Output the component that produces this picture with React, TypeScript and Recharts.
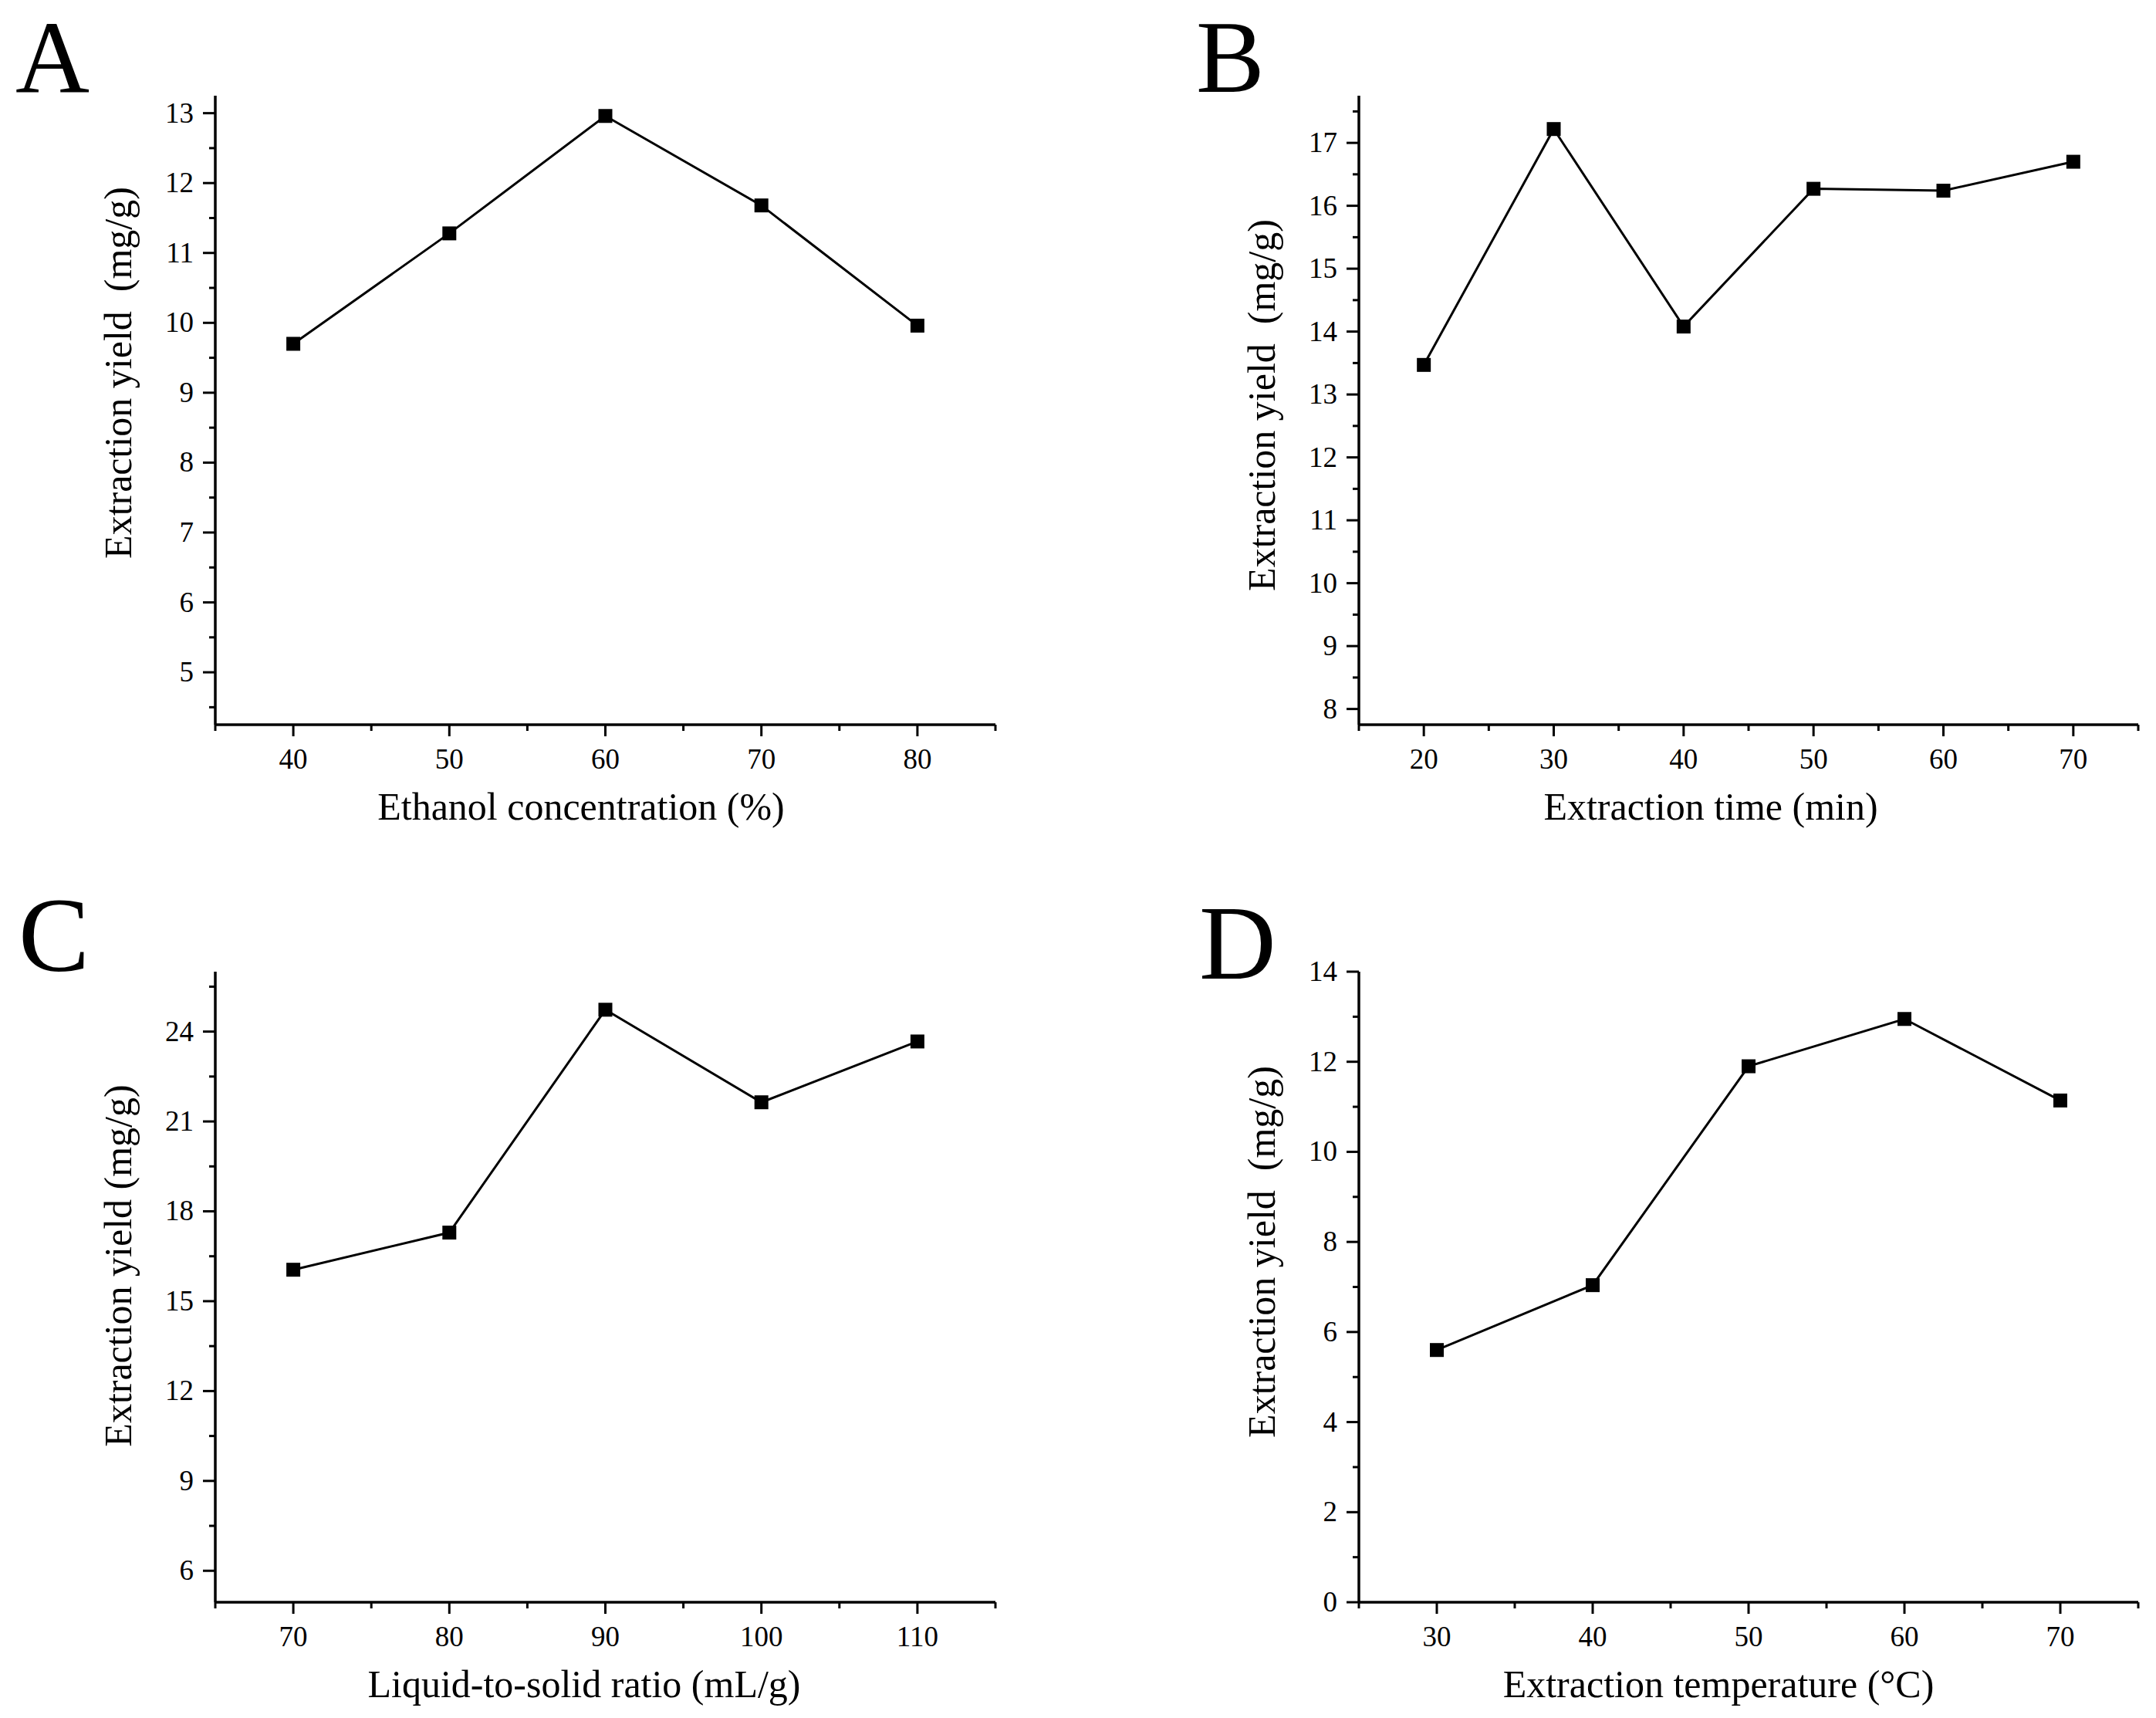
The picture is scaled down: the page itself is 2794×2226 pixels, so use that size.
import React from 'react';
import { LineChart, Line, XAxis, YAxis } from 'recharts';

// ---------- data ----------
const concA = [40, 50, 60, 70, 80];
const yieldA = [9.7, 11.28, 12.96, 11.68, 9.96];

const timeB = [20, 30, 40, 50, 60, 70];
const yieldB = [13.47, 17.22, 14.08, 16.27, 16.24, 16.7];

const ratioC = [70, 80, 90, 100, 110];
const yieldC = [16.05, 17.29, 24.73, 21.64, 23.67];

const tempD = [30, 40, 50, 60, 70];
const yieldD = [5.6, 7.04, 11.9, 12.95, 11.14];

// tick labels (major) and minor tick values
const xMajorA = [40, 50, 60, 70, 80];
const xMinorA = [35, 45, 55, 65, 75, 85];
const yMajorA = [5, 6, 7, 8, 9, 10, 11, 12, 13];
const yMinorA = [4.5, 5.5, 6.5, 7.5, 8.5, 9.5, 10.5, 11.5, 12.5];

const xMajorB = [20, 30, 40, 50, 60, 70];
const xMinorB = [15, 25, 35, 45, 55, 65, 75];
const yMajorB = [8, 9, 10, 11, 12, 13, 14, 15, 16, 17];
const yMinorB = [8.5, 9.5, 10.5, 11.5, 12.5, 13.5, 14.5, 15.5, 16.5, 17.5];

const xMajorC = [70, 80, 90, 100, 110];
const xMinorC = [65, 75, 85, 95, 105, 115];
const yMajorC = [6, 9, 12, 15, 18, 21, 24];
const yMinorC = [7.5, 10.5, 13.5, 16.5, 19.5, 22.5, 25.5];

const xMajorD = [30, 40, 50, 60, 70];
const xMinorD = [25, 35, 45, 55, 65, 75];
const yMajorD = [0, 2, 4, 6, 8, 10, 12, 14];
const yMinorD = [1, 3, 5, 7, 9, 11, 13];

const FONT = "'Liberation Serif', 'Times New Roman', serif";
const TICK_FS = 37;
const TITLE_FS = 50;
const AXIS_W = 3.5;

const zip = (xs: number[], ys: number[]) => xs.map((x, i) => ({ x, y: ys[i] }));

const SquareDot = (props: any) => {
  const { cx, cy, index } = props;
  if (cx == null || cy == null) return null;
  return <rect key={`d-${index}`} x={cx - 9} y={cy - 9} width={18} height={18} fill="#000" />;
};

const textStyle = { fontFamily: FONT };

const makeXTick = (majors: number[]) => (props: any) => {
  const { x, y, payload } = props;
  const v = payload.value;
  const major = majors.includes(v);
  return (
    <g>
      <line x1={x} x2={x} y1={y} y2={y + (major ? 15 : 8)} stroke="#000" strokeWidth={3} />
      {major && (
        <text x={x} y={y + 57} textAnchor="middle" fontFamily={FONT} style={textStyle} fontSize={TICK_FS} fill="#000">
          {v}
        </text>
      )}
    </g>
  );
};

const makeYTick = (majors: number[]) => (props: any) => {
  const { x, y, payload } = props;
  const v = payload.value;
  const major = majors.includes(v);
  return (
    <g>
      <line x1={x - (major ? 16 : 8)} x2={x} y1={y} y2={y} stroke="#000" strokeWidth={3} />
      {major && (
        <text x={x - 28} y={y + 12} textAnchor="end" fontFamily={FONT} style={textStyle} fontSize={TICK_FS} fill="#000">
          {v}
        </text>
      )}
    </g>
  );
};

type PanelProps = {
  left: number;
  top: number;
  data: { x: number; y: number }[];
  xDomain: [number, number];
  yDomain: [number, number];
  xMajor: number[];
  xMinor: number[];
  yMajor: number[];
  yMinor: number[];
  margin: { top: number; right: number; left: number; bottom: number };
  xTitle: string;
  yTitle: string;
  xTitlePos: [number, number];
  yTitlePos: [number, number];
};

const Panel = (p: PanelProps) => {
  const xTicks = [...p.xMajor, ...p.xMinor].sort((a, b) => a - b);
  const yTicks = [...p.yMajor, ...p.yMinor].sort((a, b) => a - b);
  return (
    <div style={{ position: 'absolute', left: p.left, top: p.top }}>
      <LineChart width={1397} height={1113} data={p.data} margin={p.margin}>
        <XAxis
          type="number"
          dataKey="x"
          domain={p.xDomain}
          ticks={xTicks}
          interval={0}
          allowDataOverflow
          height={150}
          tickSize={0}
          tickMargin={0}
          tickLine={false}
          axisLine={{ stroke: '#000', strokeWidth: AXIS_W }}
          tick={makeXTick(p.xMajor)}
          label={{
            content: () => (
              <text
                x={p.xTitlePos[0]}
                y={p.xTitlePos[1]}
                textAnchor="middle"
                fontFamily={FONT}
                fontSize={TITLE_FS}
                fill="#000"
                style={textStyle}
              >
                {p.xTitle}
              </text>
            ),
          }}
        />
        <YAxis
          type="number"
          domain={p.yDomain}
          ticks={yTicks}
          interval={0}
          allowDataOverflow
          width={200}
          tickSize={0}
          tickMargin={0}
          tickLine={false}
          axisLine={{ stroke: '#000', strokeWidth: AXIS_W }}
          tick={makeYTick(p.yMajor)}
          label={{
            content: () => (
              <text
                transform={`translate(${p.yTitlePos[0]},${p.yTitlePos[1]}) rotate(-90)`}
                textAnchor="middle"
                fontFamily={FONT}
                fontSize={TITLE_FS}
                fill="#000"
                style={{ whiteSpace: 'pre', fontFamily: FONT }}
              >
                {p.yTitle}
              </text>
            ),
          }}
        />
        <Line
          type="linear"
          dataKey="y"
          stroke="#000"
          strokeWidth={3}
          dot={SquareDot}
          activeDot={false}
          isAnimationActive={false}
        />
      </LineChart>
    </div>
  );
};

export default function App() {
  return (
    <div style={{ position: 'relative', width: 2794, height: 2226, background: '#fff', overflow: 'hidden' }}>
      <style>{`body{margin:0;}`}</style>
      <Panel
        left={0}
        top={0}
        data={zip(concA, yieldA)}
        xDomain={[35, 85]}
        yDomain={[4.25, 13.25]}
        xMajor={xMajorA}
        xMinor={xMinorA}
        yMajor={yMajorA}
        yMinor={yMinorA}
        margin={{ top: 124, right: 107, left: 79, bottom: 24 }}
        xTitle="Ethanol concentration (%)"
        yTitle="Extraction yield  (mg/g)"
        xTitlePos={[753, 1062]}
        yTitlePos={[170, 483]}
      />
      <Panel
        left={1397}
        top={0}
        data={zip(timeB, yieldB)}
        xDomain={[15, 75]}
        yDomain={[7.75, 17.75]}
        xMajor={xMajorB}
        xMinor={xMinorB}
        yMajor={yMajorB}
        yMinor={yMinorB}
        margin={{ top: 124, right: 23, left: 164, bottom: 24 }}
        xTitle="Extraction time (min)"
        yTitle="Extraction yield  (mg/g)"
        xTitlePos={[820, 1062]}
        yTitlePos={[255, 525]}
      />
      <Panel
        left={0}
        top={1113}
        data={zip(ratioC, yieldC)}
        xDomain={[65, 115]}
        yDomain={[4.95, 26]}
        xMajor={xMajorC}
        xMinor={xMinorC}
        yMajor={yMajorC}
        yMinor={yMinorC}
        margin={{ top: 146, right: 107, left: 79, bottom: 0 }}
        xTitle="Liquid-to-solid ratio (mL/g)"
        yTitle="Extraction yield (mg/g)"
        xTitlePos={[757, 1086]}
        yTitlePos={[170, 527]}
      />
      <Panel
        left={1397}
        top={1113}
        data={zip(tempD, yieldD)}
        xDomain={[25, 75]}
        yDomain={[0, 14]}
        xMajor={xMajorD}
        xMinor={xMinorD}
        yMajor={yMajorD}
        yMinor={yMinorD}
        margin={{ top: 146, right: 23, left: 164, bottom: 0 }}
        xTitle="Extraction temperature (°C)"
        yTitle="Extraction yield  (mg/g)"
        xTitlePos={[830, 1086]}
        yTitlePos={[255, 509]}
      />
      <svg
        width={2794}
        height={2226}
        style={{ position: 'absolute', left: 0, top: 0, pointerEvents: 'none' }}
      >
        <text x={20} y={119} fontFamily={FONT} style={textStyle} fontSize={133} fill="#000">A</text>
        <text x={1550} y={119} fontFamily={FONT} style={textStyle} fontSize={133} fill="#000">B</text>
        <text x={24} y={1258} fontFamily={FONT} style={textStyle} fontSize={138} fill="#000">C</text>
        <text x={1554} y={1268} fontFamily={FONT} style={textStyle} fontSize={138} fill="#000">D</text>
      </svg>
    </div>
  );
}
